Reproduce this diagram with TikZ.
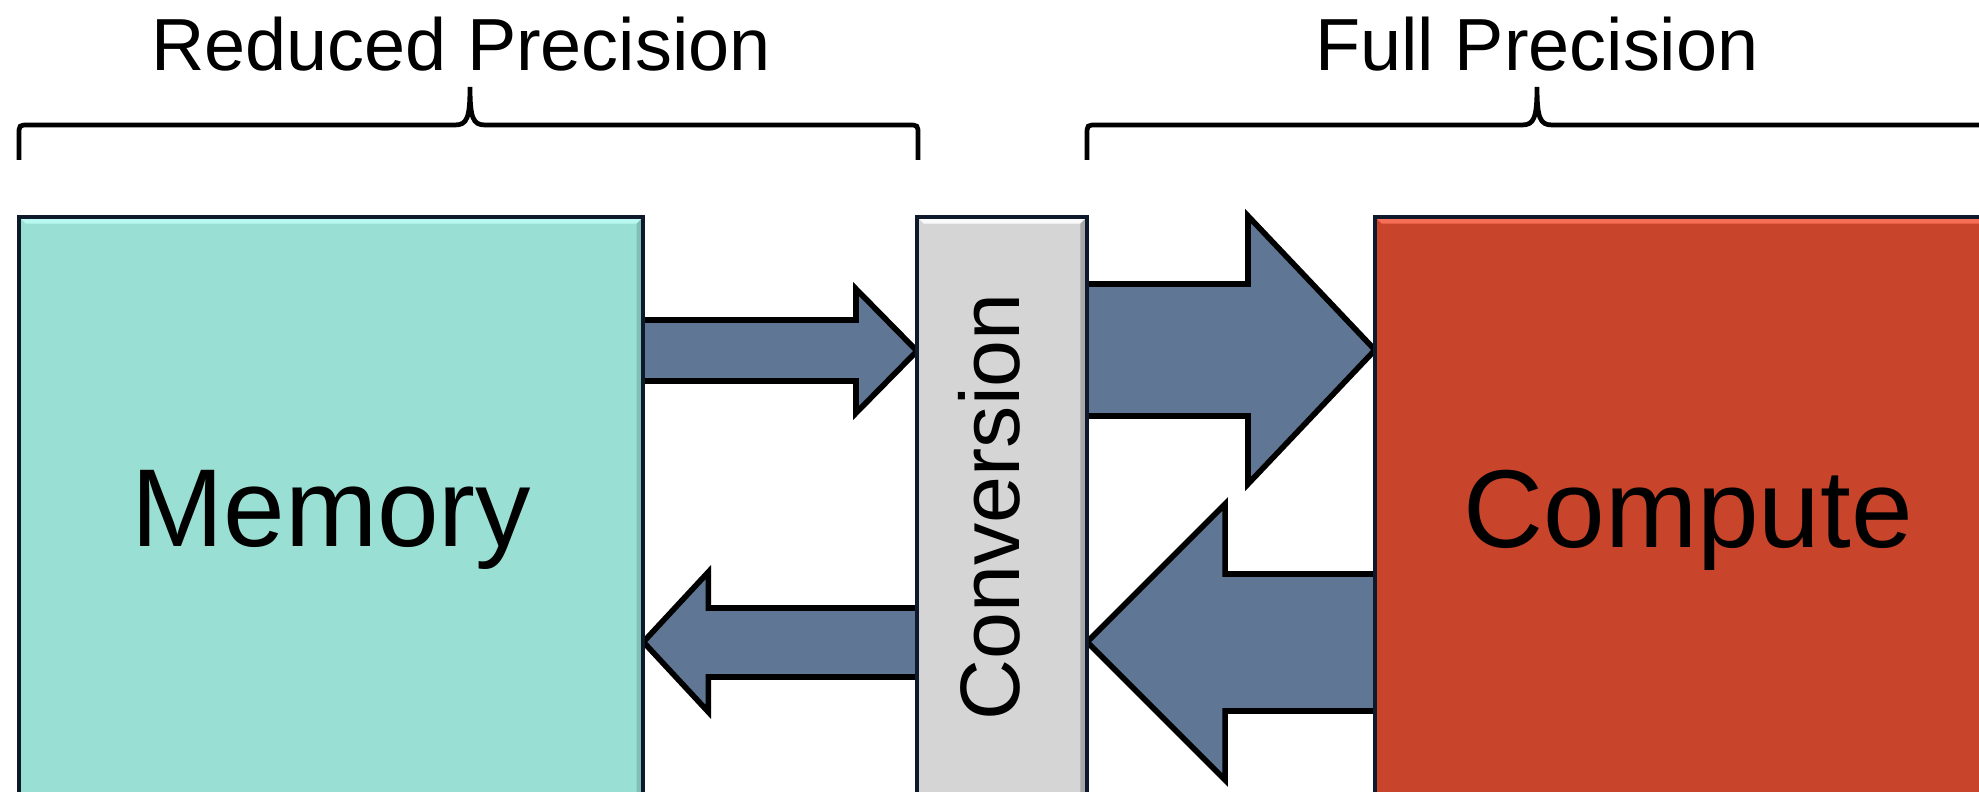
\documentclass[tikz,border=0pt]{standalone}
\usepackage{fontspec}
\setmainfont{Liberation Sans}
\usetikzlibrary{calc,backgrounds}

\definecolor{memfill}{HTML}{9ADFD4}
\definecolor{memlight}{HTML}{B9F8F1}
\definecolor{memdark}{HTML}{7FBFB4}
\definecolor{convfill}{HTML}{D5D5D5}
\definecolor{convlight}{HTML}{FAFAFA}
\definecolor{convdark}{HTML}{A8A8A8}
\definecolor{compfill}{HTML}{C8442A}
\definecolor{complight}{HTML}{F56E55}
\definecolor{compdark}{HTML}{A3331F}
\definecolor{arrowfill}{HTML}{5F7694}
\definecolor{boxline}{HTML}{0E1A2B}

% block arrow: #1 tail point, #2 tip point, #3/#4 shaft extent above/below,
% #5 half height of the head, #6 head length (signed, measured back from the tip)
\newcommand\flowarrow[6]{%
  \fill[arrowfill] ($(#1)+(0,-#3)$) -- ($(#2)+(#6,-#3)$) -- ($(#2)+(#6,-#5)$) -- (#2)
    -- ($(#2)+(#6,#5)$) -- ($(#2)+(#6,#4)$) -- ($(#1)+(0,#4)$) -- cycle;
  \draw[flowline] ($(#1)+(0,-#3)$) -- ($(#2)+(#6,-#3)$) -- ($(#2)+(#6,-#5)$) -- (#2)
    -- ($(#2)+(#6,#5)$) -- ($(#2)+(#6,#4)$) -- ($(#1)+(0,#4)$);
}

\begin{document}
\begin{tikzpicture}[x=0.01cm, y=-0.01cm,
  block/.style={draw=boxline, line width=1.2pt, anchor=north west, inner sep=0pt,
    outer sep=0pt, text depth=0pt, minimum height=5.83cm,
    font=\fontsize{31.5}{36}\selectfont},
  % light top edge and shaded right edge of a raised block
  bevel/.style 2 args={path picture={
    \fill[#1] (path picture bounding box.north west) -- (path picture bounding box.north east)
      -- ([shift={(-1.9pt,-1.9pt)}]path picture bounding box.north east)
      -- ([shift={(1.9pt,-1.9pt)}]path picture bounding box.north west) -- cycle;
    \fill[#2] (path picture bounding box.north east)
      -- ([shift={(-1.9pt,-1.9pt)}]path picture bounding box.north east)
      -- ([xshift=-1.9pt]path picture bounding box.south east)
      -- (path picture bounding box.south east) -- cycle;
  }},
  flowline/.style={draw=black, line width=1.6pt, line join=miter},
  brace/.style={draw=black, line width=1.35pt},
  title/.style={font=\fontsize{21}{25}\selectfont, anchor=base, inner sep=0pt}
]
\useasboundingbox (0,0) rectangle (1979,792);
\clip (0,0) rectangle (1979,792);

% section titles
\node[title] (reduced) at (461,71) {Reduced Precision};
\node[title] (full) at (1537,71) {Full Precision};

% braces under the titles
\draw[brace] (19,160) -- (19,135) .. controls (19,125) .. (29,125) -- (455,125)
  .. controls (467,125) and (470,118) .. (470,87)
  .. controls (470,118) and (473,125) .. (485,125) -- (908,125)
  .. controls (918,125) .. (918,135) -- (918,160);
\draw[brace] (1087,160) -- (1087,135) .. controls (1087,125) .. (1097,125) -- (1522,125)
  .. controls (1534,125) and (1537,118) .. (1537,87)
  .. controls (1537,118) and (1540,125) .. (1552,125) -- (1985,125)
  .. controls (1995,125) .. (1995,135) -- (1995,160);

% the three blocks
\node[block, fill=memfill, bevel={memlight}{memdark}, minimum width=6.24cm] (mem) at (19,217) {Memory};
\node[block, fill=convfill, bevel={convlight}{convdark}, minimum width=1.70cm] (conv) at (917,217) {};
\node[block, fill=compfill, bevel={complight}{compdark}, minimum width=6.26cm] (comp) at (1375,217) {Compute};
\node[rotate=90, inner sep=0pt, text depth=0pt, font=\fontsize{24}{28}\selectfont]
  (convlabel) at ($(conv.center)+(-13,-2)$) {Conversion};

% data movement between the blocks, drawn beneath the blocks
\begin{scope}[on background layer]
  \fill[white] (0,0) rectangle (1979,792);
  \coordinate (a1s) at ($(mem.north east)+(0,134)$);
  \coordinate (a1t) at ($(conv.north west)+(0,134)$);
  \coordinate (a2s) at ($(conv.north east)+(0,133)$);
  \coordinate (a2t) at ($(comp.north west)+(0,133)$);
  \coordinate (a3s) at ($(comp.north west)+(0,425)$);
  \coordinate (a3t) at ($(conv.north east)+(0,425)$);
  \coordinate (a4s) at ($(conv.north west)+(0,425)$);
  \coordinate (a4t) at ($(mem.north east)+(0,425)$);
  \flowarrow{a1s}{a1t}{31}{30}{62}{-61}
  \flowarrow{a2s}{a2t}{66}{66}{134}{-127}
  \flowarrow{a3s}{a3t}{68}{69}{138}{138}
  \flowarrow{a4s}{a4t}{34}{35}{70}{65}
\end{scope}
\end{tikzpicture}
\end{document}
